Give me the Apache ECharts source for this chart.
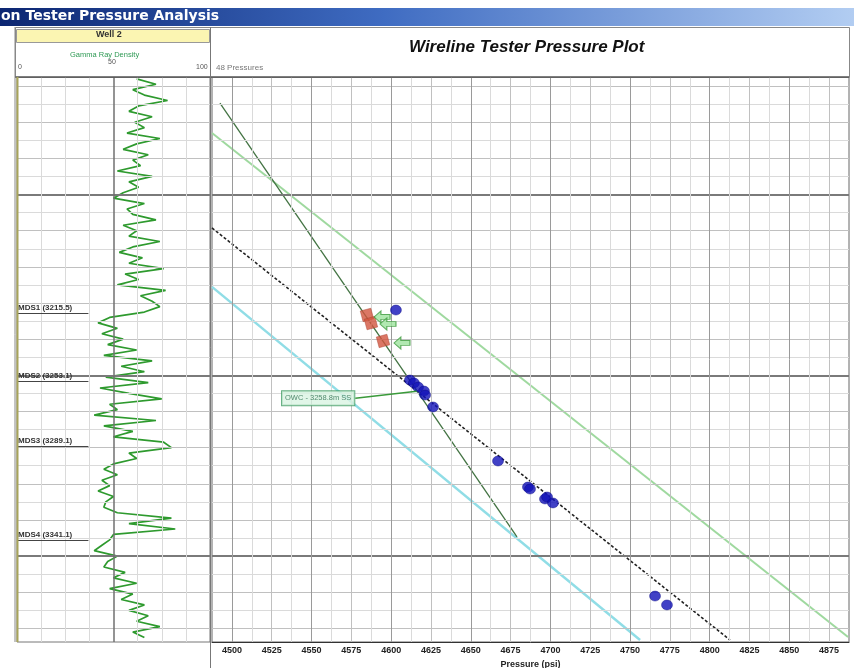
<!DOCTYPE html>
<html>
<head>
<meta charset="utf-8">
<script src="https://cdn.jsdelivr.net/npm/echarts@6/dist/echarts.min.js"></script>
<style>
html,body{margin:0;padding:0;background:#fff}
#chart{width:854px;height:668px}
</style>
</head>
<body>
<div id="chart"></div>
<script>
// ---- Gamma ray log (depth, API units 0-100) ----
const grDepth = [3086,3089,3092,3095,3098,3101,3104,3107,3110,3113,3116,3119,3122,3125,3128,3131,3134,3137,3140,3143,
  3146,3149,3152,3155,3158,3161,3164,3167,3170,3173,3176,3179,3182,3185,3188,3191,3194,3197,3200,3203,
  3206,3209,3212,3215,3218,3221,3224,3227,3230,3233,3236,3239,3242,3245,3248,3251,3254,3257,3260,3263,
  3266,3269,3272,3275,3278,3281,3284,3287,3290,3293,3296,3299,3302,3305,3308,3311,3314,3317,3320,3323,
  3326,3329,3332,3335,3338,3341,3344,3347,3350,3353,3356,3359,3362,3365,3368,3371,3374,3377,3380,3383,
  3386,3389,3392,3395];
const grValue = [62,72,60,66,78,63,58,70,61,66,57,74,62,55,68,60,64,52,70,58,
  63,55,50,66,57,60,72,55,62,58,74,60,53,65,58,76,56,63,52,77,
  64,70,74,66,48,42,52,44,55,47,62,45,70,54,66,46,68,43,58,75,
  48,52,40,72,45,60,50,76,80,58,62,50,45,52,44,48,42,50,46,45,
  52,80,58,82,50,48,44,40,52,47,45,56,50,62,48,60,54,66,58,68,
  62,74,60,66];

// ---- Formation tops ----
const topNames = ['MDS1', 'MDS2', 'MDS3', 'MDS4'];
const topDepth = [3215.5, 3253.1, 3289.1, 3341.1];

// ---- Pressure points (psi, depth) ----
const goodP = [4603.0, 4611.8, 4614.3, 4616.9, 4620.6, 4621.3, 4626.3, 4667.1, 4685.9, 4687.2, 4696.6, 4697.9, 4701.6, 4765.7, 4773.2];
const goodD = [3213.9, 3252.6, 3254.2, 3256.5, 3258.7, 3260.9, 3267.5, 3297.4, 3311.8, 3312.9, 3318.4, 3317.3, 3320.6, 3372.1, 3377.0];
const badP = [4584.8, 4587.3, 4594.9];
const badD = [3216.6, 3221.1, 3231.0];
const flagP = [4594.3, 4598.0, 4606.8];
const flagD = [3217.7, 3221.6, 3232.1];

// ---- Gradient lines (end points) ----
const oilLineP = [4492.5, 4679.0];
const oilLineD = [3099.4, 3339.4];
const upperLineP = [4487.5, 4886.9];
const upperLineD = [3116.0, 3394.7];
const waterLineP = [4487.5, 4812.8];
const waterLineD = [3168.5, 3396.4];
const lowerLineP = [4487.5, 4756.3];
const lowerLineD = [3201.1, 3396.4];

// ---- Axis ----
const pressureTicks = [4500,4525,4550,4575,4600,4625,4650,4675,4700,4725,4750,4775,4800,4825,4850,4875];
const depthMin = 3085, depthMax = 3397.5;
const pMin = 4487.5, pMax = 4887.5;

const zip = (a, b) => a.map((v, i) => [v, b[i]]);

function intersect(a0, a1, b0, b1) {
  const [x1, y1] = a0, [x2, y2] = a1, [x3, y3] = b0, [x4, y4] = b1;
  const den = (x1 - x2) * (y3 - y4) - (y1 - y2) * (x3 - x4);
  const t = ((x1 - x3) * (y3 - y4) - (y1 - y3) * (x3 - x4)) / den;
  return [x1 + t * (x2 - x1), y1 + t * (y2 - y1)];
}
const owc = intersect([oilLineP[0], oilLineD[0]], [oilLineP[1], oilLineD[1]],
                      [waterLineP[0], waterLineD[0]], [waterLineP[1], waterLineD[1]]);

// grid line styles
const LIGHT = {color: '#dadada', width: 1, type: 'solid'};
const MID = {color: '#c0c0c0', width: 1, type: 'solid'};
const DARK = {color: '#9a9a9a', width: 1, type: 'solid'};
const MAJOR = {color: '#7a7a7a', width: 2, type: 'solid'};

function depthLines() {
  const out = [];
  for (let d = 3090; d <= 3390; d += 10) {
    let ls = LIGHT;
    if (d % 100 === 50) ls = MAJOR; else if (d % 20 === 10) ls = MID;
    out.push({yAxis: d, lineStyle: ls});
  }
  return out;
}
function grLines() {
  const out = [];
  for (let v = 12.5; v < 100; v += 12.5) {
    out.push({xAxis: v, lineStyle: v === 50 ? {color: '#707070', width: 1.5, type: 'solid'} : LIGHT});
  }
  return out;
}
function pressureLines() {
  const out = [];
  for (let v = pMin + 12.5; v < pMax; v += 12.5) {
    let ls = LIGHT;
    if (v % 50 === 0) ls = DARK; else if (v % 25 === 0) ls = MID;
    out.push({xAxis: v, lineStyle: ls});
  }
  return out;
}
const gridMark = (data) => ({
  silent: true, symbol: ['none', 'none'], label: {show: false},
  emphasis: {disabled: true}, animation: false, data
});

const chart = echarts.init(document.getElementById('chart'), null, {renderer: 'canvas'});

const option = {
  animation: false,
  backgroundColor: '#ffffff',
  textStyle: {fontFamily: 'Liberation Sans, Arial, sans-serif'},
  grid: [
    {left: 17, top: 77, width: 193, height: 565, show: true, borderColor: '#777', borderWidth: 1,
      backgroundColor: '#fff', containLabel: false, outerBoundsMode: 'none'},
    {left: 212, top: 77, width: 637, height: 565, show: true, borderColor: '#666', borderWidth: 1,
      backgroundColor: '#fff', containLabel: false, outerBoundsMode: 'none'}
  ],
  xAxis: [
    {gridIndex: 0, type: 'value', min: 0, max: 100, show: false},
    {
      gridIndex: 1, type: 'value', min: pMin, max: pMax, interval: 12.5,
      axisLine: {show: true, lineStyle: {color: '#333', width: 1}},
      axisTick: {show: false},
      splitLine: {show: false},
      axisLabel: {
        margin: 4, color: '#222', fontSize: 9, fontWeight: 'bold',
        formatter: v => pressureTicks.includes(v) ? String(v) : ''
      },
      name: 'Pressure (psi)', nameLocation: 'middle', nameGap: 16,
      nameTextStyle: {color: '#222', fontSize: 9, fontWeight: 'bold'}
    }
  ],
  yAxis: [
    {gridIndex: 0, type: 'value', inverse: true, min: depthMin, max: depthMax, show: false},
    {gridIndex: 1, type: 'value', inverse: true, min: depthMin, max: depthMax, show: false}
  ],
  graphic: [
    // window title bar
    {type: 'rect', left: 0, top: 8, shape: {width: 854, height: 18}, z: 10,
      style: {fill: new echarts.graphic.LinearGradient(0, 0, 1, 0, [
        {offset: 0, color: '#0c2672'}, {offset: 0.45, color: '#3f6cc2'}, {offset: 1, color: '#b2cdf2'}])}},
    {type: 'text', left: 1, top: 9, z: 11,
      style: {text: 'on Tester Pressure Analysis', fill: '#ffffff', font: 'bold 14px "DejaVu Sans", sans-serif'}},
    // left panel header
    {type: 'rect', left: 15, top: 27, shape: {width: 195, height: 50}, z: 5,
      style: {fill: '#fff', stroke: '#888', lineWidth: 1}},
    {type: 'rect', left: 16, top: 29, shape: {width: 193, height: 13}, z: 6,
      style: {fill: '#fbf5b2', stroke: '#999', lineWidth: 1}},
    {type: 'text', left: 96, top: 30, z: 7,
      style: {text: 'Well 2', fill: '#333', font: 'bold 9px "Liberation Sans", sans-serif'}},
    {type: 'text', left: 70, top: 51, z: 7,
      style: {text: 'Gamma Ray Density', fill: '#2f9a55', font: '7.5px "Liberation Sans", sans-serif'}},
    {type: 'text', left: 108, top: 59, z: 7,
      style: {text: '50', fill: '#555', font: '7px "Liberation Sans", sans-serif'}},
    {type: 'text', left: 18, top: 64, z: 7,
      style: {text: '0', fill: '#555', font: '7px "Liberation Sans", sans-serif'}},
    {type: 'text', left: 196, top: 64, z: 7,
      style: {text: '100', fill: '#555', font: '7px "Liberation Sans", sans-serif'}},
    // right panel header
    {type: 'rect', left: 210, top: 27, shape: {width: 639, height: 50}, z: 5,
      style: {fill: '#fff', stroke: '#888', lineWidth: 1}},
    {type: 'text', left: 409, top: 39, z: 7,
      style: {text: 'Wireline Tester Pressure Plot', fill: '#111', font: 'italic bold 17px "Liberation Sans", sans-serif'}},
    {type: 'text', left: 216, top: 64, z: 7,
      style: {text: '48 Pressures', fill: '#777', font: '8px "Liberation Sans", sans-serif'}},
    // panel divider and header rule
    {type: 'line', z: 8, shape: {x1: 15, y1: 77, x2: 849, y2: 77}, style: {stroke: '#555', lineWidth: 1.5}},
    {type: 'line', z: 8, shape: {x1: 210.5, y1: 27, x2: 210.5, y2: 668}, style: {stroke: '#777', lineWidth: 1}},
    {type: 'line', z: 8, shape: {x1: 15, y1: 27, x2: 15, y2: 642}, style: {stroke: '#888', lineWidth: 1}},
    {type: 'line', z: 8, shape: {x1: 17.5, y1: 77, x2: 17.5, y2: 642}, style: {stroke: '#a8a45a', lineWidth: 2}}
  ],
  series: [
    // grid lines of the log track
    {type: 'line', xAxisIndex: 0, yAxisIndex: 0, z: 1, silent: true, showSymbol: false,
      data: [[0, depthMin]], markLine: gridMark(depthLines().concat(grLines()))},
    // grid lines of the pressure plot
    {type: 'line', xAxisIndex: 1, yAxisIndex: 1, z: 1, silent: true, showSymbol: false,
      data: [[pMin, depthMin]], markLine: gridMark(depthLines().concat(pressureLines()))},
    // gamma ray curve with formation tops
    {
      type: 'line', name: 'Gamma Ray', xAxisIndex: 0, yAxisIndex: 0, z: 3,
      data: zip(grValue, grDepth), showSymbol: false, silent: true,
      lineStyle: {color: '#2e9a2e', width: 1.7},
      markLine: {
        silent: true, symbol: ['none', 'none'], animation: false,
        lineStyle: {color: '#444', width: 1.2, type: 'solid'},
        label: {
          show: true, position: 'insideStartTop', distance: 1,
          color: '#333', fontSize: 8, fontWeight: 'bold',
          formatter: p => p.name
        },
        data: topNames.map((n, i) => [
          {coord: [0, topDepth[i]], name: n + ' (' + topDepth[i].toFixed(1) + ')'},
          {coord: [37, topDepth[i]]}
        ])
      }
    },
    // gradient lines
    {type: 'line', xAxisIndex: 1, yAxisIndex: 1, z: 3, showSymbol: false, silent: true,
      data: zip(upperLineP, upperLineD), lineStyle: {color: '#9fd99f', width: 2}},
    {type: 'line', xAxisIndex: 1, yAxisIndex: 1, z: 3, showSymbol: false, silent: true,
      data: zip(lowerLineP, lowerLineD), lineStyle: {color: '#90dde6', width: 2.5}},
    {type: 'line', xAxisIndex: 1, yAxisIndex: 1, z: 3, showSymbol: false, silent: true,
      data: zip(waterLineP, waterLineD), lineStyle: {color: '#222', width: 1.6, type: [3, 2]}},
    {type: 'line', xAxisIndex: 1, yAxisIndex: 1, z: 3, showSymbol: false, silent: true,
      data: zip(oilLineP, oilLineD), lineStyle: {color: '#437343', width: 1.3}},
    // pressure points
    {type: 'scatter', xAxisIndex: 1, yAxisIndex: 1, z: 5, silent: true,
      data: zip(badP, badD), symbol: 'rect', symbolSize: 11, symbolRotate: 15,
      itemStyle: {color: '#d2553f', borderColor: '#a8402e', borderWidth: 0.5}},
    {type: 'scatter', xAxisIndex: 1, yAxisIndex: 1, z: 6, silent: true,
      data: zip(flagP, flagD),
      symbol: 'path://M0,5 L6,0 L6,3 L14,3 L14,7 L6,7 L6,10 Z', symbolSize: [16, 12],
      itemStyle: {color: '#9ee49e', borderColor: '#3d9a3d', borderWidth: 1}},
    {type: 'scatter', xAxisIndex: 1, yAxisIndex: 1, z: 6, silent: true,
      data: zip(goodP, goodD), symbol: 'circle', symbolSize: [11, 10],
      itemStyle: {color: '#1212b8', borderColor: '#0a0a80', borderWidth: 0.5}},
    // oil-water contact annotation
    {
      type: 'scatter', xAxisIndex: 1, yAxisIndex: 1, z: 7, silent: true,
      data: [owc], symbolSize: 1, itemStyle: {color: 'rgba(0,0,0,0)'},
      label: {
        show: true, position: 'inside',
        formatter: () => 'OWC - ' + owc[1].toFixed(1) + 'm SS',
        color: '#2b6e4e', fontSize: 7.5,
        backgroundColor: '#d9f4e2', borderColor: '#3d9a62', borderWidth: 1, padding: [3, 3]
      },
      labelLayout: {dx: -99, dy: 7},
      labelLine: {show: true, lineStyle: {color: '#3a9a3a', width: 1.5}}
    }
  ]
};
chart.setOption(option);
</script>
</body>
</html>
